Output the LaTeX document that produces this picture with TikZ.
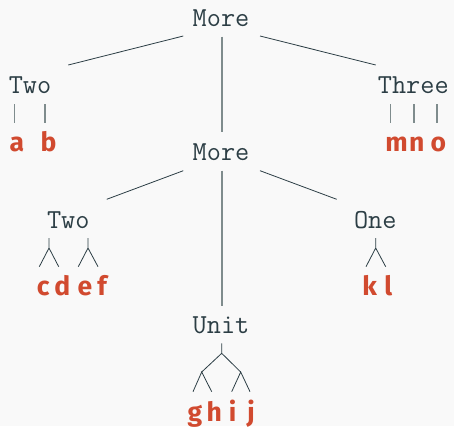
\documentclass[tikz,border=0pt]{standalone}
\usepackage{fontspec}
\newfontfamily\leaffont{Fira Sans}
\begin{document}
\definecolor{ink}{HTML}{2C3E45}
\definecolor{stem}{HTML}{7F8C8D}
\definecolor{leafred}{HTML}{D14A2F}
\definecolor{paper}{HTML}{F9F9F9}
\begin{tikzpicture}[x=1pt,y=-1pt,
  label/.style={anchor=base,inner sep=0pt,text=ink,font=\fontsize{27.5}{30}\selectfont\ttfamily},
  leaf/.style={anchor=base,inner sep=0pt,text=leafred,font=\fontsize{26.5}{29}\selectfont\leaffont\bfseries},
  branch/.style={draw=ink,line width=0.8pt},
  trunk/.style={draw=stem,line width=1.6pt},
  twig/.style={draw=stem,line width=1.2pt}]
\fill[paper] (0,0) rectangle (454,426);
\useasboundingbox (0,0) rectangle (454,426);

% inner nodes
\node[label] (root) at (221,26) {More};
\node[label] (two1) at (30,93) {Two};
\node[label] (three) at (413.3,93) {Three};
\node[label] (more2) at (221,160) {More};
\node[label] (two2) at (68.3,228) {Two};
\node[label] (one) at (375.3,228) {One};
\node[label] (unit) at (221,333) {Unit};

% leaves
\node[leaf] (a) at (17,151) {a};
\node[leaf] (b) at (48.5,151) {b};
\node[leaf] (m) at (396.5,151) {m};
\node[leaf] (n) at (416.7,151) {n};
\node[leaf] (o) at (438.3,151) {o};
\node[leaf] (c) at (43.3,295) {c};
\node[leaf] (d) at (62.3,295) {d};
\node[leaf] (e) at (85,295) {e};
\node[leaf] (f) at (102,295) {f};
\node[leaf] (k) at (369.7,295) {k};
\node[leaf] (l) at (388.3,295) {l};
\node[leaf] (g) at (195,421.5) {g};
\node[leaf] (h) at (214.2,421.5) {h};
\node[leaf] (i) at (232.6,421.5) {i};
\node[leaf] (j) at (251,421.5) {j};

% connector end points
\coordinate (rootL) at (183.3,36);
\coordinate (rootM) at (221.7,36.5);
\coordinate (rootR) at (260,36);
\coordinate (two1T) at (68.3,65);
\coordinate (threeT) at (375.7,65);
\coordinate (more2T) at (221.7,131.7);

\coordinate (aT) at (14.3,104.3);  \coordinate (aB) at (14.3,122.7);
\coordinate (bT) at (45,104.3);    \coordinate (bB) at (45,122.7);
\coordinate (mT) at (390.7,104.3); \coordinate (mB) at (390.7,122.7);
\coordinate (nT) at (414,104.3);   \coordinate (nB) at (414,122.7);
\coordinate (oT) at (437,104.3);   \coordinate (oB) at (437,122.7);

\coordinate (more2L) at (183.3,170.7);
\coordinate (more2M) at (221.7,170.7);
\coordinate (more2R) at (260,170.7);
\coordinate (two2T) at (106.7,199.3);
\coordinate (oneT) at (336.7,199.3);
\coordinate (unitT) at (221.7,306);

% Two (lower): two forks
\coordinate (cdT) at (49,238);   \coordinate (cdJ) at (49,248);
\coordinate (cE) at (39.3,266.7); \coordinate (dE) at (58.7,266.7);
\coordinate (efT) at (88,238);   \coordinate (efJ) at (88,248);
\coordinate (eE) at (78.3,266.7); \coordinate (fE) at (98,266.7);

% One: one fork
\coordinate (klT) at (375.7,238); \coordinate (klJ) at (375.7,248);
\coordinate (kE) at (366,266.7);  \coordinate (lE) at (385.7,266.7);

% Unit: binary fork of forks
\coordinate (uT) at (221.7,343.3); \coordinate (uJ) at (221.7,353.3);
\coordinate (ghJ) at (201.7,372);  \coordinate (ijJ) at (240.7,372);
\coordinate (gE) at (193,391.7);   \coordinate (hE) at (211.7,391.7);
\coordinate (iE) at (231.7,391.7); \coordinate (jE) at (250,391.7);

% connectors
\draw[branch] (rootL) -- (two1T);
\draw[branch] (rootR) -- (threeT);
\draw[trunk] (rootM) -- (more2T);
\draw[twig] (aT) -- (aB);
\draw[twig] (bT) -- (bB);
\draw[twig] (mT) -- (mB);
\draw[twig] (nT) -- (nB);
\draw[twig] (oT) -- (oB);

\draw[branch] (more2L) -- (two2T);
\draw[branch] (more2R) -- (oneT);
\draw[trunk] (more2M) -- (unitT);

\draw[branch] (cdT) -- (cdJ) (cE) -- (cdJ) -- (dE);
\draw[branch] (efT) -- (efJ) (eE) -- (efJ) -- (fE);
\draw[branch] (klT) -- (klJ) (kE) -- (klJ) -- (lE);
\draw[branch] (uT) -- (uJ) (ghJ) -- (uJ) -- (ijJ);
\draw[branch] (gE) -- (ghJ) -- (hE);
\draw[branch] (iE) -- (ijJ) -- (jE);
\end{tikzpicture}
\end{document}
